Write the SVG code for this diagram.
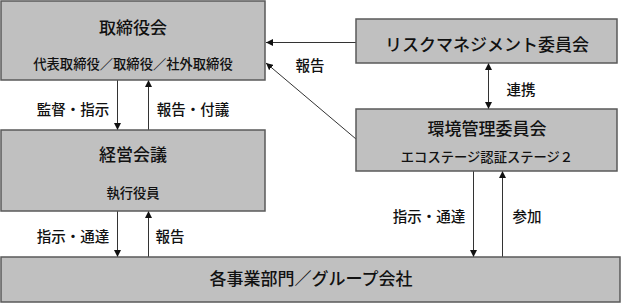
<svg xmlns="http://www.w3.org/2000/svg" width="621" height="303" viewBox="0 0 621 303">
<defs>
<style>
.box{fill:#c0c0c0;stroke:#5a5a5a;stroke-width:1.5}
.t{font-family:"Noto Sans CJK JP","Noto Sans CJK SC",sans-serif;fill:#111;text-anchor:middle;dominant-baseline:central;font-weight:500}
.big{font-size:17px}
.sm{font-size:13.3px}
.lb{font-size:14.5px}
.ln{stroke:#333;stroke-width:1;fill:none}
</style>
<marker id="ah" viewBox="0 0 10 10" refX="10" refY="5" markerWidth="7" markerHeight="7" orient="auto-start-reverse" markerUnits="userSpaceOnUse">
<path d="M0,0 L10,5 L0,10 z" fill="#111"/>
</marker>
</defs>
<g id="connectors">
<line class="ln" x1="117.5" y1="80" x2="117.5" y2="130" marker-end="url(#ah)"/>
<line class="ln" x1="148.5" y1="130" x2="148.5" y2="80" marker-end="url(#ah)"/>
<line class="ln" x1="117.5" y1="211" x2="117.5" y2="257" marker-end="url(#ah)"/>
<line class="ln" x1="148.5" y1="257" x2="148.5" y2="211" marker-end="url(#ah)"/>
<line class="ln" x1="356" y1="42.5" x2="266" y2="42.5" marker-end="url(#ah)"/>
<line class="ln" x1="356" y1="139" x2="266" y2="63" marker-end="url(#ah)"/>
<line class="ln" x1="488.5" y1="63" x2="488.5" y2="109" marker-start="url(#ah)" marker-end="url(#ah)"/>
<line class="ln" x1="473.5" y1="171" x2="473.5" y2="257" marker-end="url(#ah)"/>
<line class="ln" x1="502.5" y1="257" x2="502.5" y2="171" marker-end="url(#ah)"/>
<text class="t lb" x="73" y="108">監督・指示</text>
<text class="t lb" x="193" y="108">報告・付議</text>
<text class="t lb" x="73" y="235">指示・通達</text>
<text class="t lb" x="170" y="235">報告</text>
<text class="t lb" x="310" y="64">報告</text>
<text class="t lb" x="521" y="88">連携</text>
<text class="t lb" x="429" y="215">指示・通達</text>
<text class="t lb" x="527" y="215">参加</text>
</g>
<g id="board">
<rect class="box" x="1" y="1" width="264" height="79"/>
<text class="t big" x="133" y="26">取締役会</text>
<text class="t sm" x="133" y="63">代表取締役／取締役／社外取締役</text>
</g>
<g id="exec">
<rect class="box" x="1" y="130" width="264" height="81"/>
<text class="t big" x="133" y="153">経営会議</text>
<text class="t sm" x="133" y="192">執行役員</text>
</g>
<g id="depts">
<rect class="box" x="1" y="257" width="619" height="45"/>
<text class="t big" x="311" y="277">各事業部門／グループ会社</text>
</g>
<g id="risk">
<rect class="box" x="356" y="19" width="261" height="44"/>
<text class="t big" x="487" y="43">リスクマネジメント委員会</text>
</g>
<g id="env">
<rect class="box" x="356" y="109" width="261" height="62"/>
<text class="t big" x="487" y="127">環境管理委員会</text>
<text class="t sm" x="487" y="156">エコステージ認証ステージ２</text>
</g>
</svg>
